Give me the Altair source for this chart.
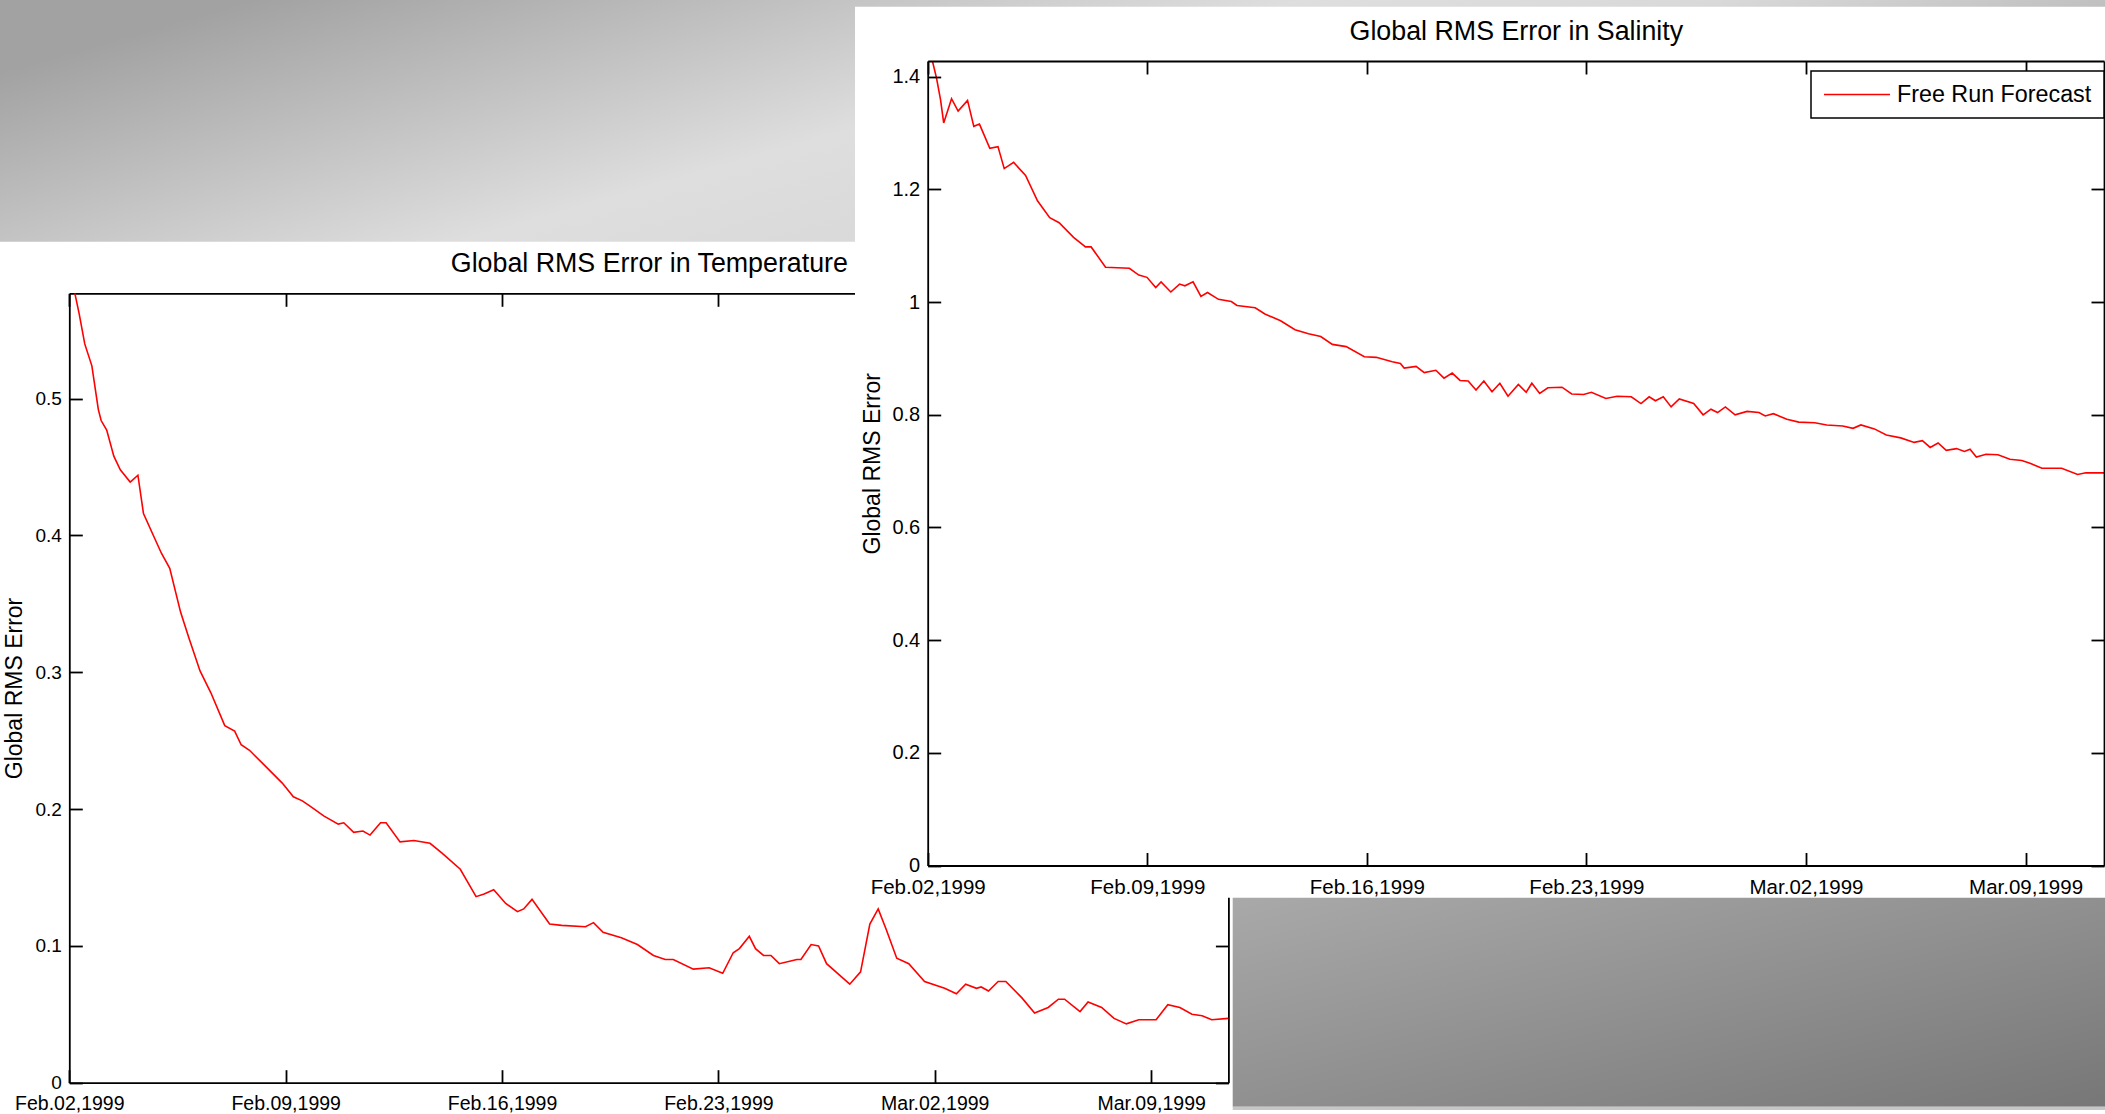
import json
import altair as alt
import pandas as pd

W, H = 2105, 1114
FONT = "Liberation Sans"

# ---------------- data ----------------
TICK_DAYS = [0, 7, 14, 21, 28, 35]
TICK_LABELS = ["Feb.02,1999", "Feb.09,1999", "Feb.16,1999",
               "Feb.23,1999", "Mar.02,1999", "Mar.09,1999"]
DAY_DOMAIN = [0, 37.5]

TEMP_TITLE = "Global RMS Error in Temperature"
SAL_TITLE = "Global RMS Error in Salinity"
Y_TITLE = "Global RMS Error"
SERIES = "Free Run Forecast"

TEMP_Y_TICKS = [0, 0.1, 0.2, 0.3, 0.4, 0.5]
TEMP_Y_MAX = 0.577
SAL_Y_TICKS = [0, 0.2, 0.4, 0.6, 0.8, 1.0, 1.2, 1.4]
SAL_Y_MAX = 1.428

TEMP_DAYS = [0.18, 0.32, 0.5, 0.73, 0.94, 1.03, 1.21, 1.44, 1.65, 1.97,
             2.22, 2.4, 2.72, 2.98, 3.25, 3.6, 3.87, 4.23, 4.58, 5.03,
             5.35, 5.56, 5.83, 6.27, 6.89, 7.25, 7.54, 7.8, 8.23, 8.7,
             8.88, 9.2, 9.5, 9.73, 10.07, 10.25, 10.7, 11.15, 11.67, 12.05,
             12.65, 13.16, 13.42, 13.73, 14.12, 14.5, 14.7, 14.97, 15.54, 15.93,
             16.7, 16.96, 17.27, 17.86, 18.38, 18.9, 19.28, 19.54, 20.19, 20.7,
             21.14, 21.48, 21.68, 22.0, 22.2, 22.46, 22.7, 22.97, 23.54, 23.67,
             24.0, 24.24, 24.5, 25.25, 25.6, 25.9, 26.17, 26.43, 26.77, 27.16,
             27.67, 28.32, 28.7, 29.0, 29.35, 29.5, 29.74, 30.05, 30.3, 30.82,
             31.23, 31.67, 32.0, 32.2, 32.7, 32.96, 33.4, 33.8, 34.2, 34.6,
             35.16, 35.54, 35.93, 36.32, 36.65, 36.96, 37.5]
TEMP_VALUES = [0.577, 0.562, 0.540, 0.524, 0.492, 0.484, 0.477, 0.458, 0.448, 0.439,
               0.444, 0.416, 0.400, 0.387, 0.376, 0.344, 0.325, 0.301, 0.285, 0.261,
               0.257, 0.247, 0.243, 0.233, 0.219, 0.209, 0.206, 0.202, 0.195, 0.189,
               0.190, 0.183, 0.184, 0.181, 0.190, 0.190, 0.176, 0.177, 0.175, 0.168,
               0.156, 0.136, 0.138, 0.141, 0.131, 0.125, 0.127, 0.134, 0.116, 0.115,
               0.114, 0.117, 0.110, 0.106, 0.101, 0.093, 0.090, 0.090, 0.083, 0.084,
               0.080, 0.095, 0.098, 0.107, 0.098, 0.093, 0.093, 0.087, 0.090, 0.090,
               0.101, 0.100, 0.087, 0.072, 0.081, 0.116, 0.127, 0.112, 0.091, 0.087,
               0.074, 0.069, 0.065, 0.072, 0.069, 0.070, 0.067, 0.074, 0.074, 0.062,
               0.051, 0.055, 0.061, 0.061, 0.052, 0.059, 0.055, 0.047, 0.043, 0.046,
               0.046, 0.057, 0.055, 0.050, 0.049, 0.046, 0.047]

SAL_DAYS = [0.15, 0.28, 0.41, 0.51, 0.76, 0.97, 1.27, 1.47, 1.65, 1.98,
            2.24, 2.44, 2.74, 3.12, 3.5, 3.89, 4.19, 4.65, 5.03, 5.21,
            5.67, 6.43, 6.73, 6.99, 7.27, 7.44, 7.75, 8.03, 8.2, 8.46,
            8.71, 8.92, 9.27, 9.68, 9.86, 10.44, 10.75, 11.25, 11.71, 12.14,
            12.53, 12.9, 13.34, 13.92, 14.3, 14.81, 15.07, 15.19, 15.57, 15.83,
            16.2, 16.46, 16.72, 16.97, 17.23, 17.48, 17.73, 17.99, 18.24, 18.5,
            18.83, 19.08, 19.26, 19.51, 19.77, 20.22, 20.53, 20.91, 21.16, 21.62,
            21.98, 22.43, 22.74, 23.0, 23.2, 23.45, 23.7, 23.96, 24.42, 24.72,
            24.97, 25.18, 25.43, 25.74, 26.12, 26.5, 26.7, 26.96, 27.39, 27.77,
            28.28, 28.66, 29.17, 29.5, 29.75, 30.18, 30.56, 31.02, 31.45, 31.71,
            31.96, 32.21, 32.47, 32.8, 33.05, 33.23, 33.43, 33.74, 34.12, 34.5,
            34.88, 35.14, 35.52, 36.15, 36.66, 36.92, 37.5]
SAL_VALUES = [1.428, 1.398, 1.359, 1.318, 1.361, 1.339, 1.358, 1.312, 1.316, 1.273,
              1.276, 1.237, 1.248, 1.225, 1.180, 1.150, 1.141, 1.115, 1.098, 1.098,
              1.062, 1.060, 1.048, 1.044, 1.026, 1.036, 1.018, 1.032, 1.029, 1.036,
              1.010, 1.017, 1.005, 1.001, 0.994, 0.990, 0.979, 0.967, 0.951, 0.944,
              0.939, 0.925, 0.921, 0.903, 0.902, 0.894, 0.891, 0.883, 0.886, 0.875,
              0.879, 0.865, 0.874, 0.861, 0.860, 0.844, 0.860, 0.841, 0.856, 0.833,
              0.854, 0.840, 0.856, 0.838, 0.848, 0.849, 0.837, 0.836, 0.840, 0.829,
              0.833, 0.832, 0.820, 0.832, 0.825, 0.832, 0.814, 0.828, 0.820, 0.800,
              0.810, 0.804, 0.814, 0.800, 0.806, 0.804, 0.798, 0.802, 0.792, 0.787,
              0.786, 0.782, 0.780, 0.776, 0.782, 0.775, 0.764, 0.759, 0.751, 0.754,
              0.742, 0.750, 0.737, 0.740, 0.735, 0.739, 0.725, 0.730, 0.729, 0.721,
              0.719, 0.714, 0.705, 0.705, 0.694, 0.697, 0.697]

# ---------------- layout (pixels, slide composition) ----------------
TEMP_BOX = dict(x0=69.3, x1=1228.4, y0=293.3, y1=1082.7)
SAL_BOX = dict(x0=927.7, x1=2104.0, y0=61.0, y1=865.5)
TICK_LEN = 13
LINE_W = 1.8

temp_df = pd.DataFrame({"day": TEMP_DAYS, "value": TEMP_VALUES})
sal_df = pd.DataFrame({"day": SAL_DAYS, "value": SAL_VALUES, "series": SERIES})
one = pd.DataFrame({"k": [0]})

label_expr = json.dumps(TICK_LABELS) + "[round(datum.value / 7)]"

base_axis = dict(grid=False, domainColor="black", domainWidth=LINE_W,
                 tickColor="black", tickWidth=LINE_W, labelColor="black",
                 labelFont=FONT, titleFont=FONT, titleColor="black",
                 titleFontWeight="normal")


def panel(df, box, ymax, yticks, title, zindex, xpad, xfs, yfs, color=None):
    xs = alt.Scale(domain=DAY_DOMAIN, range=[box["x0"], box["x1"]], nice=False, zero=False)
    ys = alt.Scale(domain=[0, ymax], range=[box["y1"], box["y0"]], nice=False, zero=False)

    def enc(xaxis, yaxis):
        return dict(x=alt.X("day:Q", scale=xs, axis=xaxis, title=None),
                    y=alt.Y("value:Q", scale=ys, axis=yaxis, title=None))

    ax = dict(base_axis, zindex=zindex)

    # main: data line, labels, bottom/left frame, y title
    x_main = alt.Axis(orient="bottom", offset=box["y1"] - H, ticks=False, tickSize=0,
                      domain=True, values=TICK_DAYS, labelExpr=label_expr,
                      labelFontSize=xfs, labelPadding=xpad, labelFlush=False,
                      labelOverlap=False, **ax)
    y_main = alt.Axis(orient="left", offset=-box["x0"], ticks=False, tickSize=0,
                      domain=True, values=yticks, format="~g", labelFontSize=yfs,
                      labelPadding=8, labelFlush=False, labelOverlap=False,
                      title=Y_TITLE, titleFontSize=23, titleAngle=270,
                      titleX=-48.3, titleY=(box["y0"] + box["y1"]) / 2,
                      titleAlign="center", titleBaseline="alphabetic", **ax)
    e = enc(x_main, y_main)
    if color is not None:
        e["color"] = color
        line = alt.Chart(df).mark_line(strokeWidth=1.6).encode(**e)
    else:
        line = alt.Chart(df).mark_line(strokeWidth=1.6, color="#ff0000").encode(**e)

    # inward ticks bottom / left
    x_t1 = alt.Axis(orient="bottom", offset=box["y1"] - TICK_LEN - H, ticks=True,
                    tickSize=TICK_LEN, domain=False, labels=False, values=TICK_DAYS, **ax)
    y_t1 = alt.Axis(orient="left", offset=-(box["x0"] + TICK_LEN), ticks=True,
                    tickSize=TICK_LEN, domain=False, labels=False, values=yticks, **ax)
    t1 = alt.Chart(df).mark_line(strokeOpacity=0).encode(**enc(x_t1, y_t1))

    # top / right frame + panel title
    x_top = alt.Axis(orient="top", offset=-box["y0"], ticks=False, tickSize=0,
                     domain=True, labels=False, values=TICK_DAYS, title=title,
                     titleFontSize=26.8, titleAngle=0, titleX=(box["x0"] + box["x1"]) / 2,
                     titleY=-22, titleAlign="center", titleBaseline="alphabetic", **ax)
    y_right = alt.Axis(orient="right", offset=box["x1"] - W, ticks=False, tickSize=0,
                       domain=True, labels=False, values=yticks, **ax)
    fr = alt.Chart(df).mark_line(strokeOpacity=0).encode(
        x=alt.X("day:Q", scale=xs, axis=x_top, title=title),
        y=alt.Y("value:Q", scale=ys, axis=y_right, title=None))

    # inward ticks top / right
    x_t2 = alt.Axis(orient="top", offset=-(box["y0"] + TICK_LEN), ticks=True,
                    tickSize=TICK_LEN, domain=False, labels=False, values=TICK_DAYS, **ax)
    y_t2 = alt.Axis(orient="right", offset=box["x1"] - TICK_LEN - W, ticks=True,
                    tickSize=TICK_LEN, domain=False, labels=False, values=yticks, **ax)
    t2 = alt.Chart(df).mark_line(strokeOpacity=0).encode(**enc(x_t2, y_t2))
    return [line, t1, fr, t2]


def rect(x0, x1, y0, y1, fill):
    return alt.Chart(one).mark_rect(fill=fill, strokeWidth=0).encode(
        x=alt.value(x0), x2=alt.value(x1), y=alt.value(y0), y2=alt.value(y1))


top_grad = alt.LinearGradient(
    gradient="linear", x1=0, y1=0.3, x2=1, y2=0.7,
    stops=[alt.GradientStop(color="#a2a2a2", offset=0),
           alt.GradientStop(color="#dedede", offset=0.43),
           alt.GradientStop(color="#d9d9d9", offset=0.6),
           alt.GradientStop(color="#9c9c9c", offset=1)])
box_grad = alt.LinearGradient(
    gradient="linear", x1=0, y1=0, x2=1, y2=1,
    stops=[alt.GradientStop(color="#a9a9a9", offset=0),
           alt.GradientStop(color="#777777", offset=1)])

sal_color = alt.Color(
    "series:N",
    scale=alt.Scale(domain=[SERIES], range=["#ff0000"]),
    legend=alt.Legend(title=None, orient="none", legendX=1811, legendY=71,
                      symbolType="stroke", symbolSize=66 * 66, symbolStrokeWidth=1.6,
                      labelFont=FONT, labelFontSize=23.3, labelColor="black",
                      labelOffset=6, labelLimit=500, padding=12, clipHeight=23,
                      strokeColor="black", fillColor="white", zindex=2))

layers = [rect(0, W, 0, 241.7, top_grad)]
layers += panel(temp_df, TEMP_BOX, TEMP_Y_MAX, TEMP_Y_TICKS, TEMP_TITLE, 0,
                xpad=11.5, xfs=19.5, yfs=19)
layers += [rect(855, W, 6.7, 897.7, "white")]
layers += panel(sal_df, SAL_BOX, SAL_Y_MAX, SAL_Y_TICKS, SAL_TITLE, 1,
                xpad=12, xfs=20.5, yfs=20, color=sal_color)
layers += [rect(1232.7, W, 897.7, 1106.7, box_grad),
           rect(1232.7, W, 1106.7, 1110, "#c6c6c6")]

chart = alt.layer(*layers).resolve_scale(
    x="independent", y="independent"
).resolve_axis(
    x="independent", y="independent"
).properties(
    width=W, height=H, padding=0,
    autosize=alt.AutoSizeParams(type="none"),
    background="white",
).configure_view(stroke="transparent").configure_legend(strokeWidth=1.5)

chart.save("out.html", embed_options={"renderer": "svg", "actions": False})
